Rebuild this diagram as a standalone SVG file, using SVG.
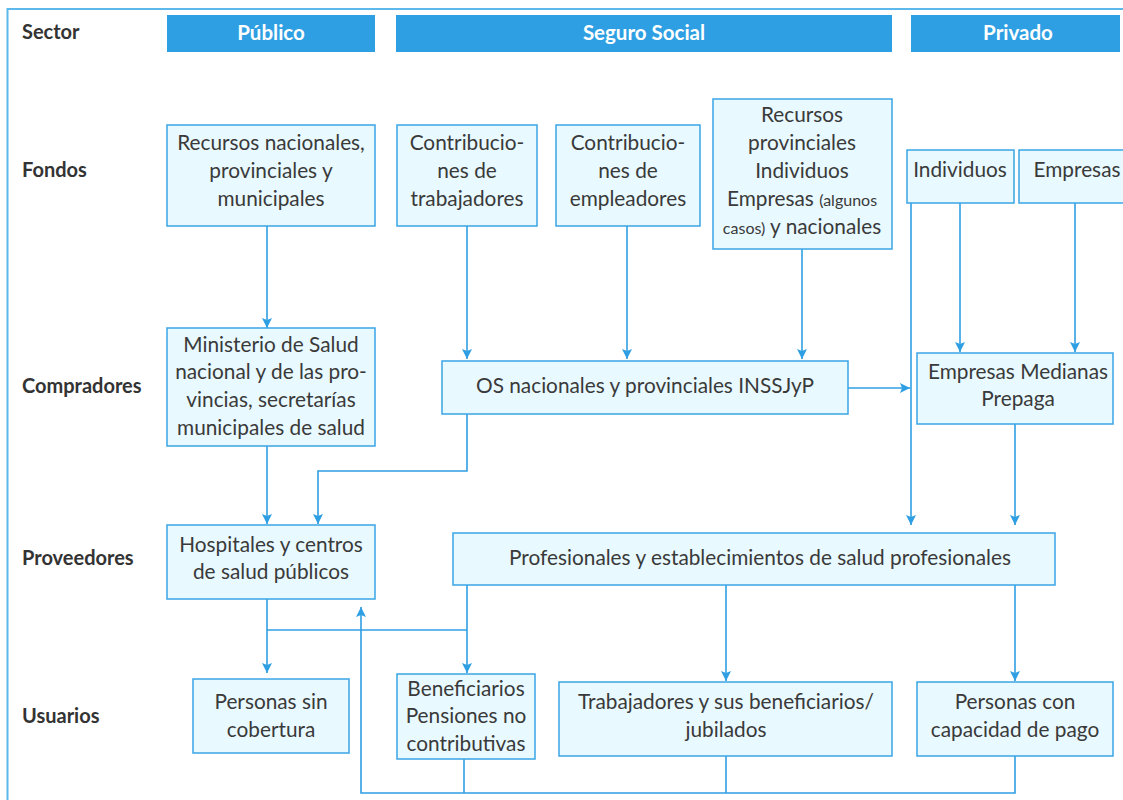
<svg xmlns="http://www.w3.org/2000/svg" width="1123" height="800" viewBox="0 0 1123 800">
<style>
.frame{fill:none;stroke:#5db8ec;stroke-width:2}
.hdr{fill:#2f9fe3}
.hdrt{fill:#ffffff;font-family:Lato,"Liberation Sans",sans-serif;font-size:20.5px;font-weight:bold;text-anchor:middle}
.lbl{fill:#333333;font-family:Lato,"Liberation Sans",sans-serif;font-size:20px;font-weight:bold}
.box{fill:#e8f9ff;stroke:#3aa5e6;stroke-width:1.5}
.t{fill:#3a3a3a;font-family:Lato,"Liberation Sans",sans-serif;font-size:20.8px;text-anchor:middle}
.s{font-size:16px}
.c{fill:none;stroke:#2f9fe3;stroke-width:1.6}
</style>
<defs>
<marker id="ah" viewBox="0 0 10 10" refX="10" refY="5" markerWidth="10" markerHeight="10" markerUnits="userSpaceOnUse" orient="auto">
<path d="M0,0 L10,5 L0,10 L2,5 z" fill="#2f9fe3"/>
</marker>
</defs>
<rect width="1123" height="800" fill="#ffffff"/>
<path class="frame" d="M7.5,800 V9 H1123"/>

<g id="headers">
<rect class="hdr" x="167" y="15" width="208" height="37"/>
<text class="hdrt" x="271" y="40">Público</text>
<rect class="hdr" x="396" y="15" width="496" height="37"/>
<text class="hdrt" x="644" y="40">Seguro Social</text>
<rect class="hdr" x="911" y="15" width="209" height="37"/>
<text class="hdrt" x="1018" y="40">Privado</text>
</g>

<g id="rowlabels">
<text class="lbl" x="22" y="39">Sector</text>
<text class="lbl" x="22" y="177">Fondos</text>
<text class="lbl" x="22" y="393">Compradores</text>
<text class="lbl" x="22" y="565">Proveedores</text>
<text class="lbl" x="22" y="723">Usuarios</text>
</g>

<g id="connectors">
<path class="c" d="M267,226 V328" marker-end="url(#ah)"/>
<path class="c" d="M467,226 V359" marker-end="url(#ah)"/>
<path class="c" d="M627,226 V359" marker-end="url(#ah)"/>
<path class="c" d="M802,249 V359" marker-end="url(#ah)"/>
<path class="c" d="M911,203 V525" marker-end="url(#ah)"/>
<path class="c" d="M960,203 V352" marker-end="url(#ah)"/>
<path class="c" d="M1075,203 V352" marker-end="url(#ah)"/>
<path class="c" d="M848,388 H910" marker-end="url(#ah)"/>
<path class="c" d="M267,446 V524" marker-end="url(#ah)"/>
<path class="c" d="M467,414 V471 H318 V524" marker-end="url(#ah)"/>
<path class="c" d="M1015,424 V525" marker-end="url(#ah)"/>
<path class="c" d="M267,599 V673" marker-end="url(#ah)"/>
<path class="c" d="M267,630 H467"/>
<path class="c" d="M467,585 V673" marker-end="url(#ah)"/>
<path class="c" d="M726,585 V681" marker-end="url(#ah)"/>
<path class="c" d="M1015,585 V681" marker-end="url(#ah)"/>
<path class="c" d="M464,759 V793"/>
<path class="c" d="M726,756 V793"/>
<path class="c" d="M1015,756 V793 H361 V607" marker-end="url(#ah)"/>
</g>

<g id="n-recursos-nac">
<rect class="box" x="167" y="125" width="208" height="101"/>
<text class="t" x="271" y="150">Recursos nacionales,</text>
<text class="t" x="271" y="178">provinciales y</text>
<text class="t" x="271" y="206">municipales</text>
</g>
<g id="n-contrib-trab">
<rect class="box" x="397" y="125" width="140" height="101"/>
<text class="t" x="467" y="150">Contribucio-</text>
<text class="t" x="467" y="178">nes de</text>
<text class="t" x="467" y="206">trabajadores</text>
</g>
<g id="n-contrib-emp">
<rect class="box" x="556" y="125" width="144" height="101"/>
<text class="t" x="628" y="150">Contribucio-</text>
<text class="t" x="628" y="178">nes de</text>
<text class="t" x="628" y="206">empleadores</text>
</g>
<g id="n-recursos-prov">
<rect class="box" x="713" y="99" width="179" height="150"/>
<text class="t" x="802" y="122">Recursos</text>
<text class="t" x="802" y="150">provinciales</text>
<text class="t" x="802" y="178">Individuos</text>
<text class="t" x="802" y="206">Empresas <tspan class="s">(algunos</tspan></text>
<text class="t" x="802" y="234"><tspan class="s">casos)</tspan> y nacionales</text>
</g>
<g id="n-individuos">
<rect class="box" x="907" y="150" width="107" height="53"/>
<text class="t" x="960" y="177">Individuos</text>
</g>
<g id="n-empresas">
<rect class="box" x="1019" y="150" width="106" height="53"/>
<text class="t" x="1077" y="177">Empresas</text>
</g>
<g id="n-ministerio">
<rect class="box" x="167" y="328" width="208" height="118"/>
<text class="t" x="271" y="352">Ministerio de Salud</text>
<text class="t" x="271" y="379">nacional y de las pro-</text>
<text class="t" x="271" y="407">vincias, secretarías</text>
<text class="t" x="271" y="435">municipales de salud</text>
</g>
<g id="n-os">
<rect class="box" x="442" y="361" width="406" height="53"/>
<text class="t" x="645" y="393">OS nacionales y provinciales INSSJyP</text>
</g>
<g id="n-prepaga">
<rect class="box" x="917" y="353" width="196" height="71"/>
<text class="t" x="1018" y="379">Empresas Medianas</text>
<text class="t" x="1018" y="406">Prepaga</text>
</g>
<g id="n-hospitales">
<rect class="box" x="167" y="525" width="208" height="74"/>
<text class="t" x="271" y="552">Hospitales y centros</text>
<text class="t" x="271" y="579">de salud públicos</text>
</g>
<g id="n-profesionales">
<rect class="box" x="453" y="533" width="602" height="52"/>
<text class="t" x="760" y="565">Profesionales y establecimientos de salud profesionales</text>
</g>
<g id="n-sin-cobertura">
<rect class="box" x="193" y="679" width="156" height="74"/>
<text class="t" x="271" y="709">Personas sin</text>
<text class="t" x="271" y="737">cobertura</text>
</g>
<g id="n-beneficiarios">
<rect class="box" x="397" y="674" width="138" height="85"/>
<text class="t" x="466" y="696">Beneficiarios</text>
<text class="t" x="466" y="723">Pensiones no</text>
<text class="t" x="466" y="751">contributivas</text>
</g>
<g id="n-trabajadores">
<rect class="box" x="559" y="682" width="333" height="74"/>
<text class="t" x="726" y="709">Trabajadores y sus beneficiarios/</text>
<text class="t" x="726" y="737">jubilados</text>
</g>
<g id="n-capacidad">
<rect class="box" x="917" y="682" width="196" height="74"/>
<text class="t" x="1015" y="709">Personas con</text>
<text class="t" x="1015" y="737">capacidad de pago</text>
</g>
</svg>
